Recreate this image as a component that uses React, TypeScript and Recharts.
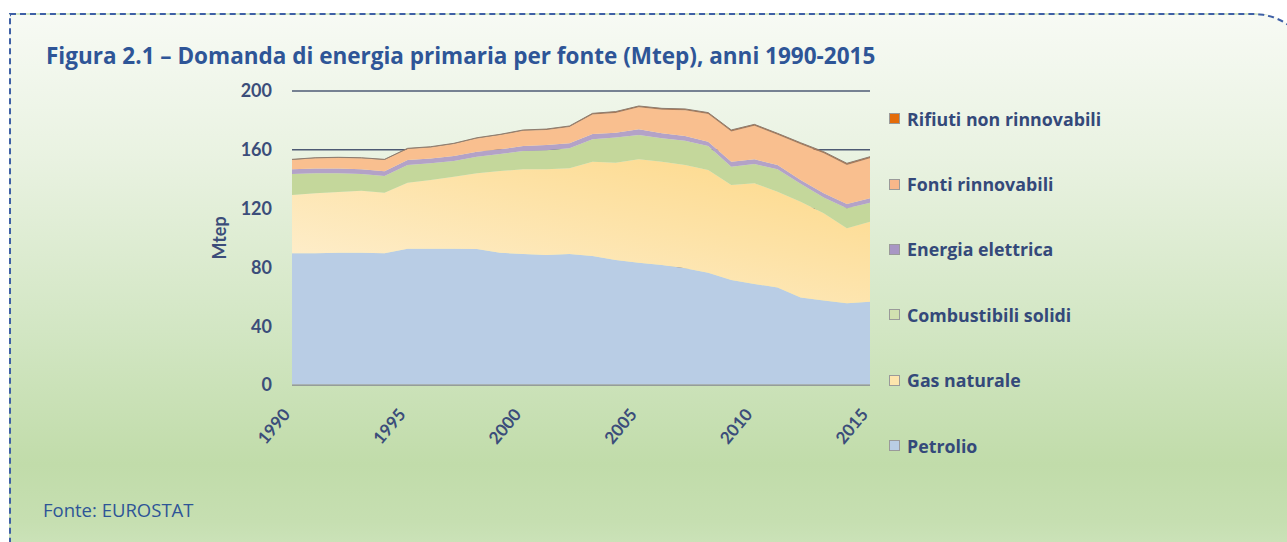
import { AreaChart, Area, XAxis, YAxis, CartesianGrid, Legend } from 'recharts';

const years = [
  1990, 1991, 1992, 1993, 1994, 1995, 1996, 1997, 1998, 1999, 2000, 2001, 2002,
  2003, 2004, 2005, 2006, 2007, 2008, 2009, 2010, 2011, 2012, 2013, 2014, 2015,
];
const petrolio = [
  89.6, 89.6, 90.0, 90.0, 89.6, 92.7, 92.7, 92.7, 92.5, 90.0, 89.1, 88.4, 89.1,
  87.8, 85.0, 83.2, 81.6, 79.4, 76.4, 71.4, 68.7, 66.4, 59.6, 57.4, 55.6, 56.7,
];
const gasNaturale = [
  39.7, 40.8, 41.3, 42.2, 41.2, 44.9, 46.8, 49.0, 51.5, 55.6, 57.6, 58.3, 58.3,
  64.1, 66.2, 70.3, 70.3, 70.3, 69.9, 64.7, 68.5, 65.1, 65.1, 59.4, 51.0, 54.4,
];
const combustibiliSolidi = [
  14.2, 13.6, 12.7, 11.3, 11.4, 12.1, 11.3, 10.7, 11.3, 11.5, 12.5, 13.0, 13.6,
  15.2, 17.2, 16.5, 15.9, 16.5, 16.3, 12.4, 13.1, 15.2, 12.2, 10.8, 13.6, 12.9,
];
const energiaElettrica = [
  3.2, 3.2, 3.2, 3.2, 3.2, 3.3, 3.3, 3.4, 3.4, 3.2, 3.4, 3.6, 3.4,
  3.6, 3.2, 3.9, 3.4, 3.2, 2.9, 3.4, 3.2, 3.0, 2.6, 2.8, 2.9, 3.0,
];
const fontiRinnovabili = [
  6.4, 7.0, 7.3, 7.5, 7.6, 7.5, 7.5, 8.1, 9.0, 9.7, 10.3, 10.2, 11.1,
  13.3, 13.5, 15.0, 16.1, 17.5, 18.8, 20.6, 22.8, 20.5, 24.2, 27.2, 26.6, 27.2,
];
const rifiutiNonRinnovabili = [
  0.4, 0.4, 0.4, 0.4, 0.5, 0.5, 0.5, 0.5, 0.5, 0.5, 0.6, 0.6, 0.7,
  0.8, 0.9, 0.9, 0.9, 0.9, 1.0, 1.0, 1.0, 1.0, 1.1, 1.1, 1.1, 1.1,
];
const yTicks = [0, 40, 80, 120, 160, 200];
const xTicks = [1990, 1995, 2000, 2005, 2010, 2015];

const data = years.map((year, i) => ({
  year,
  petrolio: petrolio[i],
  gas: gasNaturale[i],
  solidi: combustibiliSolidi[i],
  elettrica: energiaElettrica[i],
  rinnovabili: fontiRinnovabili[i],
  rifiuti: rifiutiNonRinnovabili[i],
}));

// stacking order bottom -> top
const series = [
  { key: 'petrolio', name: 'Petrolio', fill: '#b9cde5', swatch: '#b9cde5' },
  { key: 'gas', name: 'Gas naturale', fill: 'url(#gasFill)', swatch: '#fde5ad' },
  { key: 'solidi', name: 'Combustibili solidi', fill: '#c4d79b', swatch: '#d2e0b0' },
  { key: 'elettrica', name: 'Energia elettrica', fill: '#b3a2c7', swatch: '#a896c4' },
  { key: 'rinnovabili', name: 'Fonti rinnovabili', fill: '#f9bf8f', swatch: '#f9b78a' },
  { key: 'rifiuti', name: 'Rifiuti non rinnovabili', fill: '#b07a55', swatch: '#e46c0a' },
];

const textColor = '#3b4d7a';
const font = 'Lato, "Open Sans", sans-serif';
const wideFont = '"Open Sans", sans-serif';

const XTick = ({ x, y, payload }: any) => {
  const px = x - 1;
  const py = y + 30;
  return (
    <text
      x={px}
      y={py}
      transform={`rotate(-50 ${px} ${py})`}
      textAnchor="end"
      fontSize={17}
      fontWeight={700}
      fill={textColor}
      fontFamily={font}
    >
      {payload.value}
    </text>
  );
};

const renderLegend = () => (
  <div style={{ fontFamily: wideFont }}>
    {[...series].reverse().map((s) => (
      <div key={s.key} style={{ height: 65.4, display: 'flex', alignItems: 'center' }}>
        <span
          style={{
            width: 9,
            height: 9,
            background: s.swatch,
            border: '1px solid #9a9a9a',
            marginRight: 7,
          }}
        />
        <span style={{ fontSize: 17.8, fontWeight: 700, color: '#34497a' }}>{s.name}</span>
      </div>
    ))}
  </div>
);

export default function App() {
  return (
    <div
      style={{
        position: 'absolute',
        left: 0,
        top: 0,
        width: 1287,
        height: 542,
        overflow: 'hidden',
        background: '#ffffff',
        fontFamily: font,
      }}
    >
      <div
        style={{
          position: 'absolute',
          left: 9,
          top: 13,
          width: 1305,
          height: 580,
          boxSizing: 'border-box',
          border: '2px dashed #3e5fa6',
          borderRadius: '0 60px 0 50px',
          background:
            'linear-gradient(to bottom, #f7faf4 0%, #e9f2e1 25%, #d2e6c3 55%, #c1dcaa 78%, #c6dfb1 88%, #d6e9c8 100%)',
        }}
      />
      <div
        style={{
          position: 'absolute',
          left: 46,
          top: 40,
          fontSize: 22.5,
          fontWeight: 700,
          color: '#2e5597',
          whiteSpace: 'nowrap',
          fontFamily: wideFont,
        }}
      >
        Figura 2.1 – Domanda di energia primaria per fonte (Mtep), anni 1990-2015
      </div>
      <div
        style={{
          position: 'absolute',
          left: 43,
          top: 497,
          fontSize: 18.5,
          color: '#2e5597',
          fontFamily: wideFont,
        }}
      >
        Fonte: EUROSTAT
      </div>
      <div style={{ position: 'absolute', left: 0, top: 0 }}>
        <AreaChart
          width={1287}
          height={542}
          data={data}
          margin={{ top: 91, right: 417, bottom: 97, left: 200 }}
        >
          <defs>
            <linearGradient id="gasFill" x1="0" y1="1" x2="1" y2="0">
              <stop offset="0%" stopColor="#fef1d6" />
              <stop offset="60%" stopColor="#fde2a6" />
              <stop offset="100%" stopColor="#fdd888" />
            </linearGradient>
          </defs>
          <CartesianGrid vertical={false} stroke="#4e5a74" strokeWidth={1.5} />
          <XAxis
            dataKey="year"
            type="number"
            domain={[1990, 2015]}
            ticks={xTicks}
            height={60}
            tickSize={0}
            tickMargin={0}
            axisLine={{ stroke: '#a3a8a0', strokeWidth: 1.5 }}
            tickLine={false}
            tick={<XTick />}
            interval={0}
          />
          <YAxis
            domain={[0, 200]}
            ticks={yTicks}
            width={92}
            axisLine={false}
            tickLine={false}
            tickSize={0}
            tickMargin={20}
            tick={{ fontSize: 18, fontWeight: 700, fill: textColor, fontFamily: font }}
            label={{
              value: 'Mtep',
              angle: -90,
              position: 'insideLeft',
              offset: 20,
              style: { fontSize: 18, fontWeight: 700, fill: textColor, fontFamily: font, textAnchor: 'middle' },
            }}
          />
          {series.map((s) => (
            <Area
              key={s.key}
              type="linear"
              dataKey={s.key}
              name={s.name}
              stackId="1"
              fill={s.fill}
              fillOpacity={1}
              stroke={s.key === 'rifiuti' ? '#8d7d70' : 'none'}
              strokeWidth={s.key === 'rifiuti' ? 1 : 0}
              isAnimationActive={false}
            />
          ))}
          <Legend
            layout="vertical"
            align="center"
            verticalAlign="middle"
            content={renderLegend}
            wrapperStyle={{ left: 889, top: 86, width: 320 }}
          />
        </AreaChart>
      </div>
    </div>
  );
}
